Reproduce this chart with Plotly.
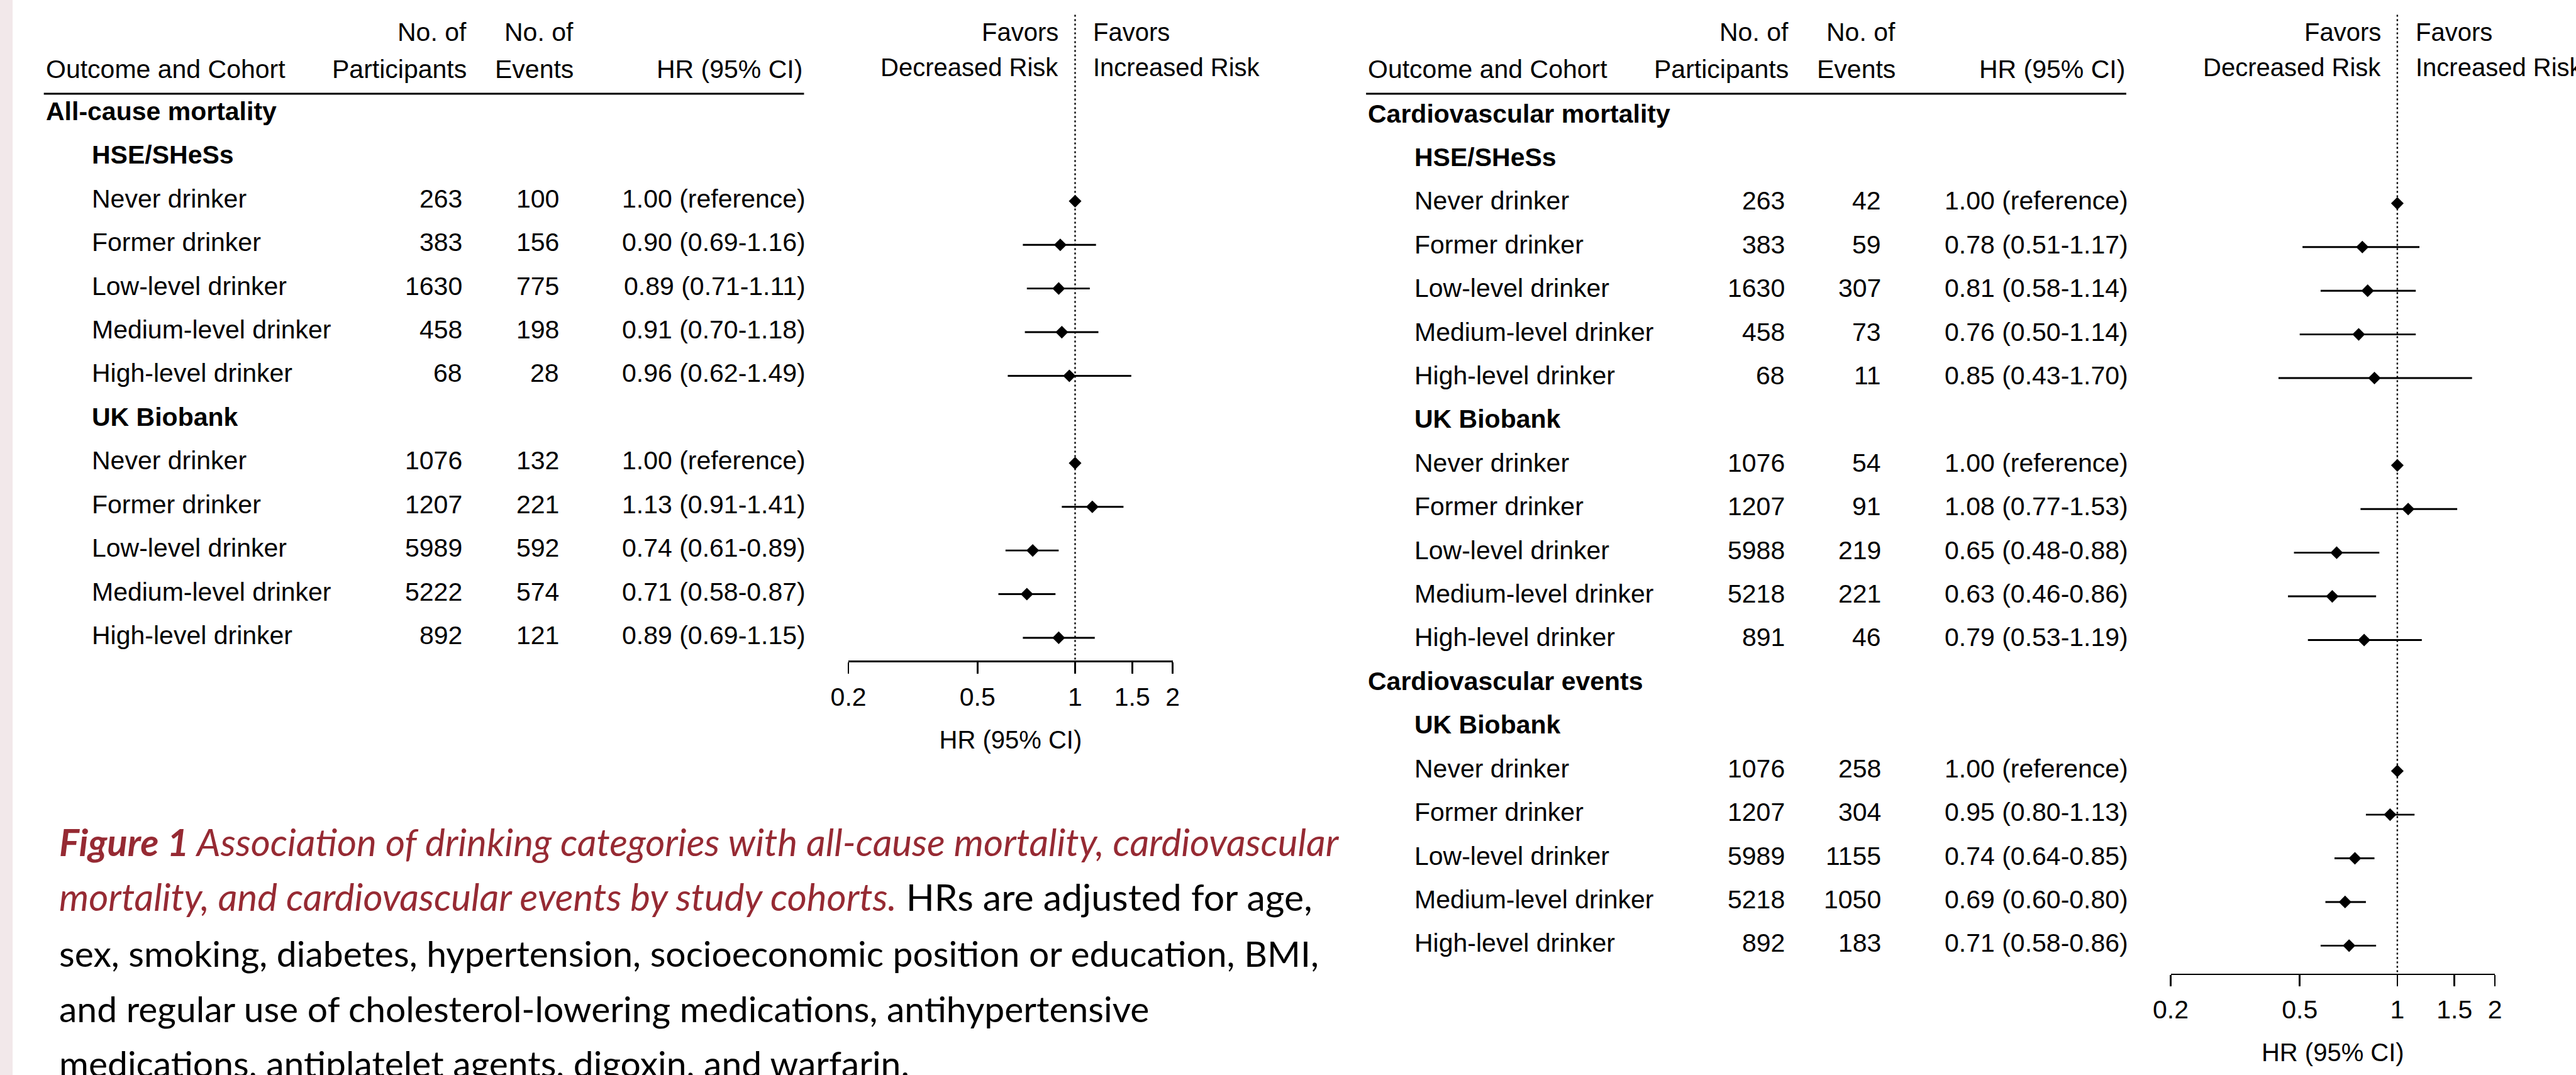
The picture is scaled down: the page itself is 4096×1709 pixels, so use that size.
import numpy as np
import plotly.graph_objects as go

# ---------------- data ----------------
categories = ["Never drinker", "Former drinker", "Low-level drinker",
              "Medium-level drinker", "High-level drinker"]

# All-cause mortality, HSE/SHeSs
acm_hse_n = [263, 383, 1630, 458, 68]
acm_hse_ev = [100, 156, 775, 198, 28]
acm_hse_hr = [1.00, 0.90, 0.89, 0.91, 0.96]
acm_hse_lo = [None, 0.69, 0.71, 0.70, 0.62]
acm_hse_hi = [None, 1.16, 1.11, 1.18, 1.49]

# All-cause mortality, UK Biobank
acm_ukb_n = [1076, 1207, 5989, 5222, 892]
acm_ukb_ev = [132, 221, 592, 574, 121]
acm_ukb_hr = [1.00, 1.13, 0.74, 0.71, 0.89]
acm_ukb_lo = [None, 0.91, 0.61, 0.58, 0.69]
acm_ukb_hi = [None, 1.41, 0.89, 0.87, 1.15]

# Cardiovascular mortality, HSE/SHeSs
cvm_hse_n = [263, 383, 1630, 458, 68]
cvm_hse_ev = [42, 59, 307, 73, 11]
cvm_hse_hr = [1.00, 0.78, 0.81, 0.76, 0.85]
cvm_hse_lo = [None, 0.51, 0.58, 0.50, 0.43]
cvm_hse_hi = [None, 1.17, 1.14, 1.14, 1.70]

# Cardiovascular mortality, UK Biobank
cvm_ukb_n = [1076, 1207, 5988, 5218, 891]
cvm_ukb_ev = [54, 91, 219, 221, 46]
cvm_ukb_hr = [1.00, 1.08, 0.65, 0.63, 0.79]
cvm_ukb_lo = [None, 0.77, 0.48, 0.46, 0.53]
cvm_ukb_hi = [None, 1.53, 0.88, 0.86, 1.19]

# Cardiovascular events, UK Biobank
cve_ukb_n = [1076, 1207, 5989, 5218, 892]
cve_ukb_ev = [258, 304, 1155, 1050, 183]
cve_ukb_hr = [1.00, 0.95, 0.74, 0.69, 0.71]
cve_ukb_lo = [None, 0.80, 0.64, 0.60, 0.58]
cve_ukb_hi = [None, 1.13, 0.85, 0.80, 0.86]

tick_vals = [0.2, 0.5, 1, 1.5, 2]
tick_text = ["0.2", "0.5", "1", "1.5", "2"]

header_label = "Outcome and Cohort"
header_n = ["No. of", "Participants"]
header_ev = ["No. of", "Events"]
header_hr = "HR (95% CI)"
favors_left = ["Favors", "Decreased Risk"]
favors_right = ["Favors", "Increased Risk"]
axis_title = "HR (95% CI)"

RED = "#962A33"
IT = 'font-size:60px'
caption_lines = [
    '<span style="color:%s;%s"><b><i>Figure 1</i></b><i> Association of drinking categories with all-cause mortality, cardiovascular</i></span>' % (RED, IT),
    '<span style="color:%s;%s"><i>mortality, and cardiovascular events by study cohorts.</i></span><span style="font-size:59px"> HRs are adjusted for age,</span>' % (RED, IT),
    'sex, smoking, diabetes, hypertension, socioeconomic position or education, BMI,',
    'and regular use of cholesterol-lowering medications, antihypertensive',
    'medications, antiplatelet agents, digoxin, and warfarin.',
]

panels = [
    [("All-cause mortality", [
        ("HSE/SHeSs", acm_hse_n, acm_hse_ev, acm_hse_hr, acm_hse_lo, acm_hse_hi),
        ("UK Biobank", acm_ukb_n, acm_ukb_ev, acm_ukb_hr, acm_ukb_lo, acm_ukb_hi)])],
    [("Cardiovascular mortality", [
        ("HSE/SHeSs", cvm_hse_n, cvm_hse_ev, cvm_hse_hr, cvm_hse_lo, cvm_hse_hi),
        ("UK Biobank", cvm_ukb_n, cvm_ukb_ev, cvm_ukb_hr, cvm_ukb_lo, cvm_ukb_hi)]),
     ("Cardiovascular events", [
        ("UK Biobank", cve_ukb_n, cve_ukb_ev, cve_ukb_hr, cve_ukb_lo, cve_ukb_hi)])],
]

# ---------------- layout geometry (reference px) ----------------
W, H = 4096, 1709
RW, RH = 4290, 1790
S = W / RW

def fx(px):
    return px / RW

def fy(py):
    return 1 - py / RH

FONT = "Liberation Sans, Arial, Helvetica, sans-serif"
TXT = 41
FTXT = 40
ROW_STEP = 72.7
PANEL_DX = [0, 2202]
ROW0 = [189.6, 193.3]
AXIS_Y = [1101, 1622]
COL_LABEL, COL_INDENT, COL_N, COL_EV, COL_HR = 74, 151, 772, 933, 1344
HDR_N, HDR_EV, HDR_HR = 779, 957, 1339
FOREST_X0, FOREST_X1 = 1413, 1953

fig = go.Figure()
annotations = []
shapes = []

# pink strip on the left edge
shapes.append(dict(type="rect", xref="paper", yref="paper", x0=0, x1=fx(21), y0=0, y1=1,
                   fillcolor="#F2E8EA", line=dict(width=0), layer="below"))

for p, panel in enumerate(panels):
    dx = PANEL_DX[p]
    xa = "x" if p == 0 else "x2"
    ya = "y" if p == 0 else "y2"
    row = 0
    ys, hrs, ep, em = [], [], [], []

    def add_text(txt, xpx, r, anchor="left", bold=False):
        annotations.append(dict(
            text=("<b>%s</b>" % txt) if bold else txt, xref="paper", yref=ya,
            x=fx(xpx + dx), y=r, xanchor=anchor, yanchor="middle", yshift=4,
            showarrow=False, font=dict(family=FONT, size=TXT, color="black")))

    for outcome, cohorts in panel:
        add_text(outcome, COL_LABEL, row, bold=True)
        row += 1
        for cname, n, ev, hr, lo, hi in cohorts:
            add_text(cname, COL_INDENT, row, bold=True)
            row += 1
            for i, cat in enumerate(categories):
                add_text(cat, COL_INDENT, row)
                add_text(str(n[i]), COL_N, row, "right")
                add_text(str(ev[i]), COL_EV, row, "right")
                if lo[i] is None:
                    s = "%.2f (reference)" % hr[i]
                else:
                    s = "%.2f (%.2f-%.2f)" % (hr[i], lo[i], hi[i])
                add_text(s, COL_HR, row, "right")
                ys.append(row)
                hrs.append(hr[i])
                ep.append(0 if hi[i] is None else hi[i] - hr[i])
                em.append(0 if lo[i] is None else hr[i] - lo[i])
                row += 1

    # forest trace
    fig.add_trace(go.Scatter(
        x=hrs, y=ys, mode="markers", xaxis=xa, yaxis=ya, showlegend=False,
        marker=dict(symbol="diamond", size=15.5, color="black"),
        error_x=dict(type="data", symmetric=False, array=ep, arrayminus=em,
                     width=0, thickness=2.9, color="black"),
        cliponaxis=False, hoverinfo="skip"))

    # dotted reference line at HR = 1
    r_top = (24.5 - ROW0[p]) / ROW_STEP
    r_bot = (AXIS_Y[p] - 2 - ROW0[p]) / ROW_STEP
    fig.add_trace(go.Scatter(
        x=[1, 1], y=[r_top, r_bot], mode="lines", xaxis=xa, yaxis=ya, showlegend=False,
        line=dict(color="black", width=2.4, dash="3px,4px"), hoverinfo="skip"))

    # headers
    def add_hdr(txt, xpx, ypx, anchor):
        annotations.append(dict(
            text=txt, xref="paper", yref="paper", x=fx(xpx + dx), y=fy(ypx),
            xanchor=anchor, yanchor="middle", showarrow=False,
            font=dict(family=FONT, size=TXT, color="black")))

    add_hdr(header_n[0], HDR_N, 53.6, "right")
    add_hdr(header_n[1], HDR_N, 115, "right")
    add_hdr(header_ev[0], HDR_EV, 53.6, "right")
    add_hdr(header_ev[1], HDR_EV, 115, "right")
    add_hdr(header_hr, HDR_HR, 115, "right")
    add_hdr(header_label, COL_LABEL, 115, "left")
    shapes.append(dict(type="line", xref="paper", yref="paper",
                       x0=fx(73 + dx), x1=fx(1339 + dx), y0=fy(156), y1=fy(156),
                       line=dict(color="black", width=3)))

    # favors labels
    for k, ypx in enumerate([53.6, 111.6]):
        annotations.append(dict(text=favors_left[k], xref=xa, yref="paper", x=np.log10(1.0),
                                y=fy(ypx), xanchor="right", yanchor="middle", xshift=-24,
                                showarrow=False, font=dict(family=FONT, size=FTXT, color="black")))
        annotations.append(dict(text=favors_right[k], xref=xa, yref="paper", x=np.log10(1.0),
                                y=fy(ypx), xanchor="left", yanchor="middle", xshift=27,
                                showarrow=False, font=dict(family=FONT, size=FTXT, color="black")))

# caption
for k, (line, ypx) in enumerate(zip(caption_lines, [1401, 1493, 1587, 1679, 1770])):
    annotations.append(dict(text=line, xref="paper", yref="paper", x=fx(96), y=fy(ypx),
                            xanchor="left", yanchor="middle", showarrow=False,
                            font=dict(family="Lato, sans-serif", size=57, color="black")))

def xaxis_cfg(p):
    return dict(
        type="log", range=[np.log10(0.2), np.log10(2)],
        domain=[fx(FOREST_X0 + PANEL_DX[p]), fx(FOREST_X1 + PANEL_DX[p])],
        anchor="free", position=fy(AXIS_Y[p]), automargin=False,
        showline=True, linecolor="black", linewidth=2.6, mirror=False,
        ticks="outside", ticklen=18, tickwidth=2.6, tickcolor="black",
        tickvals=tick_vals, ticktext=tick_text, ticklabelstandoff=2,
        tickfont=dict(family=FONT, size=41, color="black"),
        showgrid=False, zeroline=False, fixedrange=True,
        title=dict(text=axis_title, standoff=31, font=dict(family=FONT, size=FTXT, color="black")))

def yaxis_cfg(p):
    top = -ROW0[p] / ROW_STEP
    bot = (RH - ROW0[p]) / ROW_STEP
    return dict(range=[bot, top], domain=[0, 1], visible=False, fixedrange=True,
                automargin=False, showgrid=False, zeroline=False,
                anchor="x" if p == 0 else "x2")

fig.update_layout(
    width=W, height=H,
    margin=dict(l=0, r=0, t=0, b=0, pad=0, autoexpand=False),
    paper_bgcolor="white", plot_bgcolor="white",
    xaxis=xaxis_cfg(0), xaxis2=xaxis_cfg(1),
    yaxis=yaxis_cfg(0), yaxis2=yaxis_cfg(1),
    annotations=annotations, shapes=shapes, showlegend=False,
)

fig.write_html("out.html", config={"displayModeBar": False, "staticPlot": True},
               post_script="document.body.style.margin='0';")
